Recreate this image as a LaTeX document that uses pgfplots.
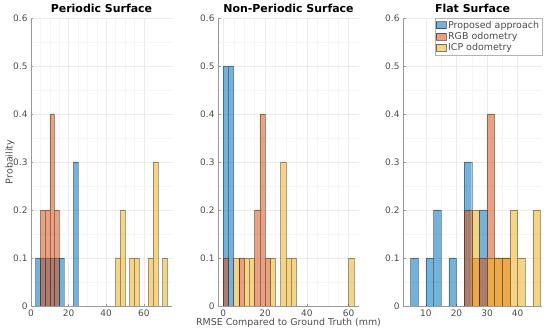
\documentclass[border=0pt]{standalone}
\usepackage{pgfplots}
\pgfplotsset{compat=1.18}
\usepackage{fontspec}
\setmainfont{DejaVu Sans}
\definecolor{mblue}{rgb}{0,0.447,0.741}
\definecolor{morange}{rgb}{0.85,0.325,0.098}
\definecolor{myellow}{rgb}{0.929,0.694,0.125}
\definecolor{axgray}{gray}{0.6}
\definecolor{txtgray}{gray}{0.3}
\pgfplotsset{
  hist/.style={ybar interval, fill=#1, fill opacity=0.55, draw=black, draw opacity=0.35, line width=0.4bp},
  panel/.style={
    scale only axis, height=288bp, anchor=south west,
    ymin=0, ymax=0.6, ytick={0,0.1,0.2,0.3,0.4,0.5,0.6},
    axis x line*=bottom, axis y line*=left,
    axis line style={axgray, line width=0.5bp, -},
    tick style={axgray, line width=0.5bp}, tick align=inside, major tick length=2.5bp,
    minor tick length=0pt,
    ticklabel style={font=\fontsize{9}{10}\selectfont, text=txtgray},
    /pgf/number format/assume math mode=true,
    grid=both, major grid style={gray!16, line width=0.4bp}, minor grid style={gray!8, line width=0.3bp},
    minor y tick num=1,
    every axis title/.style={at={(0.5,1)}, anchor=south, yshift=1.5bp, font=\bfseries\fontsize{11}{12}\selectfont},
    every axis y label/.style={at={(axis description cs:-0.149,0.5)}, rotate=90, anchor=center, font=\fontsize{9.5}{10}\selectfont, text=txtgray},
    every axis x label/.style={at={(axis description cs:0.5,0)}, anchor=center, yshift=-16.5bp, font=\fontsize{9.5}{10}\selectfont, text=txtgray},
    yticklabel style={/pgf/number format/fixed, /pgf/number format/precision=1},
  },
}
\begin{document}
\begin{tikzpicture}
\useasboundingbox (0,0) rectangle (550bp,333bp);
% Panel 1
\begin{axis}[panel, at={(31bp,27bp)}, width=141bp,
  xmin=0, xmax=75, xtick={0,20,40,60}, minor x tick num=3,
  title={Periodic Surface}, ylabel={Probaility}]
\addplot[hist=mblue] coordinates {(2.5,0.1)(5,0.1)(7.5,0.1)(10,0.1)(12.5,0.1)(15,0.1)(17.5,0)(20,0)(22.5,0.3)(25,0.3)};
\addplot[hist=morange] coordinates {(5,0.2)(7.5,0.2)(10,0.4)(12.5,0.2)(15,0.2)};
\addplot[hist=myellow] coordinates {(45,0.1)(47.5,0.2)(50,0)(52.5,0.1)(55,0.1)(57.5,0)(60,0)(62.5,0.1)(65,0.3)(67.5,0)(70,0.1)(72.5,0.1)};
\end{axis}
% Panel 2
\begin{axis}[panel, at={(218bp,27bp)}, width=141bp,
  xmin=-2.5, xmax=65, xtick={0,20,40,60}, minor x tick num=3,
  title={Non-Periodic Surface}, xlabel={RMSE Compared to Ground Truth (mm)}]
\addplot[hist=mblue] coordinates {(0,0.5)(2.5,0.5)(5,0.5)};
\addplot[hist=morange] coordinates {(0,0.1)(2.5,0)(5,0)(7.5,0.1)(10,0)(12.5,0)(15,0.2)(17.5,0.4)(20,0.1)(22.5,0.1)};
\addplot[hist=myellow] coordinates {(5,0.1)(7.5,0)(10,0.1)(12.5,0.1)(15,0)(17.5,0)(20,0)(22.5,0.1)(25,0)(27.5,0.3)(30,0.1)(32.5,0.1)(35,0)(37.5,0)(40,0)(42.5,0)(45,0)(47.5,0)(50,0)(52.5,0)(55,0)(57.5,0)(60,0.1)(62.5,0.1)};
\end{axis}
% Panel 3
\begin{axis}[panel, at={(403bp,27bp)}, width=139bp,
  xmin=2.5, xmax=48, xtick={10,20,30,40}, minor x tick num=1,
  title={Flat Surface},
  legend style={at={(1,1)}, anchor=north east, font=\fontsize{9.5}{10}\selectfont, text=txtgray,
    draw=gray!60, fill=white, inner sep=1bp, outer sep=0pt, row sep=-1.5bp,
    legend cell align=left},
  legend image code/.code={\draw[#1, fill opacity=0.55, draw opacity=0.5] (0bp,-3.2bp) rectangle (10bp,3.8bp);}]
\addplot[hist=mblue] coordinates {(5,0.1)(7.5,0)(10,0.1)(12.5,0.2)(15,0)(17.5,0.1)(20,0)(22.5,0.3)(25,0)(27.5,0.2)(30,0.2)};
\addlegendentry{Proposed approach}
\addplot[hist=morange] coordinates {(22.5,0.2)(25,0.1)(27.5,0.1)(30,0.4)(32.5,0.1)(35,0.1)(37.5,0.1)};
\addlegendentry{RGB odometry}
\addplot[hist=myellow] coordinates {(25,0.2)(27.5,0)(30,0.1)(32.5,0.1)(35,0.1)(37.5,0.2)(40,0.1)(42.5,0)(45,0.2)(47.5,0.2)};
\addlegendentry{ICP odometry}
\end{axis}
\end{tikzpicture}
\end{document}
